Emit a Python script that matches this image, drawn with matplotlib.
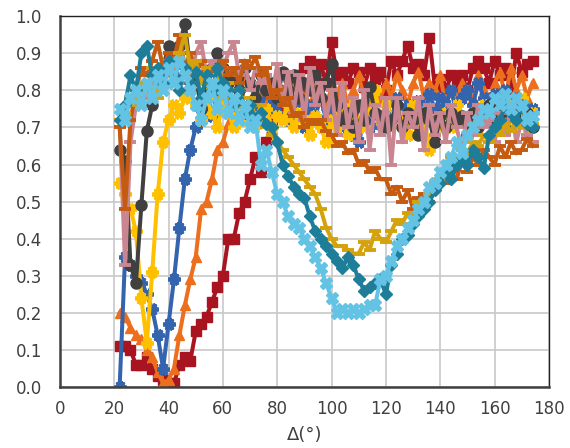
import matplotlib.pyplot as plt

plt.rcParams['font.family'] = ['DejaVu Sans']

delta = list(range(22, 176, 2))

red_sq = [.11, .11, .10, .06, .06, .08, .05, .03, .02, .01,
          .01, .06, .08, .07, .15, .17, .19, .23, .27, .30,
          .40, .40, .47, .50, .56, .62, .58, .66, .72, .76,
          .80, .78, .82, .84, .86, .88, .84, .87, .82, .93,
          .84, .85, .82, .86, .85, .81, .86, .83, .85, .80,
          .88, .84, .88, .92, .86, .87, .84, .94, .81, .83,
          .80, .84, .82, .84, .80, .86, .88, .86, .82, .88,
          .84, .86, .80, .90, .85, .87, .88]
orange_tri = [.20, .19, .16, .14, .13, .10, .08, .04, .01, .02,
              .05, .14, .22, .29, .35, .48, .50, .56, .64, .66,
              .71, .76, .80, .84, .82, .78, .80, .76, .82, .78,
              .80, .76, .82, .78, .80, .75, .82, .78, .76, .80,
              .78, .82, .76, .80, .84, .78, .76, .80, .78, .82,
              .78, .84, .80, .76, .82, .85, .78, .82, .80, .84,
              .76, .80, .78, .82, .80, .78, .84, .80, .76, .82,
              .85, .78, .86, .80, .84, .78, .82]
blue_star = [.00, .35, .33, .30, .28, .25, .21, .14, .05, .17,
             .29, .43, .56, .64, .70, .72, .75, .73, .78, .76,
             .78, .74, .80, .76, .72, .78, .75, .80, .76, .74,
             .78, .72, .76, .74, .70, .76, .73, .78, .72, .75,
             .72, .70, .74, .68, .66, .72, .70, .74, .71, .76,
             .72, .78, .74, .76, .73, .77, .72, .79, .75, .78,
             .76, .80, .74, .78, .80, .76, .82, .78, .75, .79,
             .76, .80, .74, .78, .76, .73, .75]
yellow_star = [.55, .52, .48, .42, .24, .12, .31, .52, .66, .72,
               .76, .74, .78, .80, .76, .72, .78, .74, .70, .76,
               .74, .70, .76, .72, .74, .70, .72, .75, .70, .73,
               .72, .76, .70, .74, .72, .68, .73, .70, .66, .72,
               .70, .74, .68, .76, .72, .70, .74, .80, .72, .76,
               .70, .74, .72, .68, .76, .70, .73, .64, .72, .70,
               .74, .70, .76, .72, .68, .74, .70, .76, .72, .70,
               .74, .70, .76, .72, .78, .70, .74]
gray_circ = [.64, .61, .33, .28, .49, .69, .76, .82, .86, .92,
             .88, .92, .98, .86, .84, .75, .82, .86, .90, .86,
             .82, .84, .80, .86, .82, .78, .84, .80, .82, .78,
             .85, .80, .84, .78, .82, .80, .84, .78, .82, .87,
             .76, .72, .74, .70, .76, .72, .81, .74, .73, .70,
             .72, .76, .70, .74, .72, .68, .74, .72, .66, .73,
             .70, .74, .72, .73, .68, .74, .70, .72, .76, .71,
             .74, .70, .73, .76, .72, .74, .70]
pink_dash = [.72, .33, .66, .76, .80, .78, .82, .80, .86, .84,
             .88, .82, .86, .80, .90, .93, .84, .88, .82, .86,
             .90, .93, .84, .88, .80, .86, .82, .84, .78, .87,
             .76, .85, .74, .84, .72, .86, .76, .82, .72, .80,
             .68, .82, .70, .78, .66, .80, .64, .76, .68, .78,
             .60, .78, .66, .74, .70, .78, .64, .76, .68, .74,
             .66, .76, .70, .64, .74, .68, .76, .70, .72, .66,
             .74, .68, .76, .66, .72, .68, .66]
dkorange_dash = [.70, .48, .72, .80, .86, .84, .88, .93, .86, .90,
                 .88, .95, .86, .90, .84, .88, .82, .86, .84, .88,
                 .84, .86, .82, .88, .86, .89, .84, .86, .78, .80,
                 .76, .78, .73, .74, .70, .72, .71, .72, .69, .68,
                 .65, .66, .63, .64, .60, .61, .58, .59, .56, .56,
                 .52, .54, .50, .53, .48, .51, .52, .50, .53, .56,
                 .55, .58, .56, .61, .58, .62, .60, .64, .62, .60,
                 .65, .62, .66, .63, .64, .67, .65]
gold_dash = [.72, .74, .78, .76, .82, .80, .86, .78, .84, .88,
             .82, .90, .95, .86, .88, .82, .86, .80, .84, .78,
             .82, .76, .80, .74, .78, .72, .76, .70, .68, .66,
             .64, .62, .60, .58, .56, .54, .52, .48, .43, .40,
             .38, .38, .37, .36, .36, .39, .37, .42, .40, .39,
             .42, .45, .44, .47, .46, .50, .49, .52, .55, .56,
             .58, .62, .60, .64, .63, .66, .65, .68, .66, .70,
             .68, .71, .69, .72, .70, .73, .71]
teal_dia = [.72, .76, .84, .80, .90, .92, .84, .86, .82, .88,
            .84, .80, .86, .82, .85, .78, .84, .80, .86, .82,
            .80, .76, .80, .74, .76, .72, .74, .71, .70, .66,
            .60, .57, .54, .52, .51, .46, .42, .40, .38, .36,
            .34, .32, .35, .33, .29, .26, .27, .28, .29, .25,
            .33, .36, .40, .41, .44, .46, .48, .50, .53, .55,
            .58, .56, .60, .62, .60, .64, .62, .59, .68, .70,
            .72, .76, .74, .72, .76, .71, .70]
ltblue_x = [.75, .72, .78, .80, .76, .82, .78, .84, .80, .86,
            .82, .88, .84, .80, .76, .72, .78, .82, .75, .80,
            .74, .78, .72, .76, .70, .72, .60, .64, .58, .52,
            .50, .46, .44, .43, .40, .38, .35, .32, .28, .24,
            .20, .21, .20, .21, .20, .21, .22, .22, .29, .30,
            .34, .38, .40, .43, .45, .48, .50, .54, .55, .58,
            .60, .62, .66, .63, .68, .70, .72, .75, .74, .78,
            .76, .79, .75, .78, .76, .72, .73]

series = [
    (red_sq, '#A8141F', 's', 7.5),
    (orange_tri, '#EC6F1E', '^', 7.5),
    (blue_star, '#3464AE', (6, 2, 90), 9),
    (yellow_star, '#FFC000', (6, 2, 90), 9),
    (gray_circ, '#404040', 'o', 8),
    (pink_dash, '#C98590', '_', 9),
    (dkorange_dash, '#C55A11', '_', 9),
    (gold_dash, '#D4A20C', '_', 9),
    (teal_dia, '#1E7D98', 'D', 6.5),
    (ltblue_x, '#63C3E4', 'X', 8),
]

fig = plt.figure(figsize=(5.7, 4.48), dpi=100)
ax = fig.add_axes([0.105, 0.136, 0.858, 0.828])

for vals, col, mk, ms in series:
    ax.plot(delta, vals, color=col, lw=2.9, marker=mk, ms=ms,
            mec=col, mfc=col, mew=2.8 if mk in ('_', (6, 2, 90)) else 1)

ax.set_xlim(0, 180)
ax.set_ylim(0, 1.0)
ax.set_xticks(range(0, 181, 20))
ax.set_yticks([i / 10 for i in range(11)])
ax.set_yticklabels([f'{i / 10:.1f}' for i in range(11)])
ax.grid(True, color='#c8c8c8', lw=1.2)
ax.set_axisbelow(True)
ax.tick_params(length=0, labelsize=12, labelcolor='#404040')
ax.tick_params(axis='x', pad=9)
ax.tick_params(axis='y', pad=13)
for side in ['top', 'right']:
    ax.spines[side].set_color('#222222')
    ax.spines[side].set_linewidth(1)
for side in ['left', 'bottom']:
    ax.spines[side].set_color('#404040')
    ax.spines[side].set_linewidth(1.8)
ax.set_xlabel('Δ(°)', fontsize=13, color='#404040', labelpad=6)

fig.savefig('out.png', dpi=100)
